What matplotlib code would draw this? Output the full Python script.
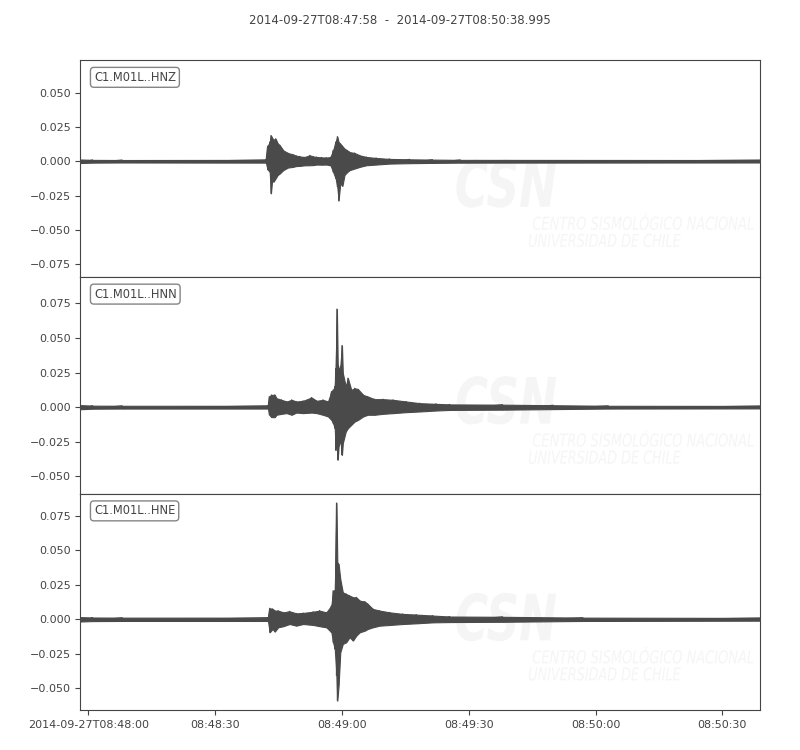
import numpy as np
import matplotlib
matplotlib.use('Agg')
import matplotlib.pyplot as plt
import matplotlib.dates as mdates
from matplotlib.ticker import MultipleLocator, FuncFormatter
from matplotlib.textpath import TextPath
from matplotlib.patches import PathPatch
from matplotlib.font_manager import FontProperties
from matplotlib.transforms import Affine2D
from datetime import datetime, timedelta

start = datetime(2014, 9, 27, 8, 47, 58)
title = '2014-09-27T08:47:58  -  2014-09-27T08:50:38.995'
ids = ['C1.M01L..HNZ', 'C1.M01L..HNN', 'C1.M01L..HNE']

# envelope (max / min per bin), t in seconds after start
t_z = [0, 3, 10, 44.0, 44.4, 44.9, 45.2, 45.5, 45.8, 46.3, 46.8, 47.3, 48.1, 49.2,
       50.4, 51.2, 52.0, 53.0, 54.4, 55.2, 56.0, 57.2, 58.3, 59.3, 59.9, 60.5,
       60.9, 61.2, 61.6, 62.1, 62.6, 63.2, 63.8, 65.0, 66.2, 67.8, 70.1, 73.3,
       78.0, 83.4, 90, 161]
hi_z = [0.0013, 0.0010, 0.0009, 0.0010, 0.0110, 0.0140, 0.0188, 0.0170, 0.0157,
        0.0164, 0.0130, 0.0116, 0.0080, 0.0060, 0.0050, 0.0040, 0.0036, 0.0030,
        0.0043, 0.0035, 0.0031, 0.0028, 0.0027, 0.0030, 0.0080, 0.0140, 0.0180,
        0.0140, 0.0128, 0.0110, 0.0092, 0.0080, 0.0067, 0.0060, 0.0043, 0.0031,
        0.0024, 0.0017, 0.0014, 0.0012, 0.0010, 0.0009]
lo_z = [-0.0013, -0.0010, -0.0009, -0.0010, -0.0060, -0.0077, -0.0234, -0.0130,
        -0.0150, -0.0125, -0.0100, -0.0089, -0.0065, -0.0046, -0.0041, -0.0035,
        -0.0034, -0.0030, -0.0029, -0.0028, -0.0024, -0.0025, -0.0024, -0.0030,
        -0.0077, -0.0125, -0.0186, -0.0287, -0.0160, -0.0180, -0.0100, -0.0080,
        -0.0065, -0.0053, -0.0041, -0.0029, -0.0024, -0.0017, -0.0014, -0.0012,
        -0.0010, -0.0009]

t_n = [0, 3, 10, 44.5, 44.8, 45.3, 46.1, 46.5, 47.7, 48.9, 50.1, 51.2, 52.8, 54.8,
       56.0, 57.5, 58.7, 59.5, 59.9, 60.3, 60.5, 60.8, 61.0, 61.2, 61.6, 62.0,
       62.2, 62.9, 63.4, 64.2, 65.0, 65.8, 67.0, 68.1, 69.7, 71.7, 74.1, 77.2,
       80.4, 84.3, 87.5, 100, 112, 125, 161]
hi_n = [0.0015, 0.0011, 0.0010, 0.0010, 0.0077, 0.0089, 0.0089, 0.0065, 0.0053,
        0.0041, 0.0053, 0.0041, 0.0046, 0.0070, 0.0046, 0.0053, 0.0041, 0.0113,
        0.0125, 0.0150, 0.0280, 0.0709, 0.0306, 0.0270, 0.0294, 0.0446, 0.0246,
        0.0150, 0.0210, 0.0125, 0.0137, 0.0130, 0.0089, 0.0077, 0.0058, 0.0058,
        0.0053, 0.0041, 0.0029, 0.0024, 0.0020, 0.0018, 0.0014, 0.0010, 0.0009]
lo_n = [-0.0015, -0.0011, -0.0010, -0.0010, -0.0055, -0.0072, -0.0072, -0.0055,
        -0.0048, -0.0043, -0.0055, -0.0039, -0.0043, -0.0039, -0.0043, -0.0055,
        -0.0067, -0.0092, -0.0116, -0.0152, -0.0310, -0.0236, -0.0380, -0.0284,
        -0.0236, -0.0345, -0.0260, -0.0176, -0.0152, -0.0128, -0.0104, -0.0092,
        -0.0067, -0.0055, -0.0055, -0.0048, -0.0043, -0.0036, -0.0031, -0.0024,
        -0.0020, -0.0018, -0.0014, -0.0010, -0.0009]

t_e = [0, 3, 10, 44.5, 44.9, 45.6, 46.1, 46.9, 48.1, 49.6, 51.2, 52.8, 55.2, 56.7,
       58.3, 59.5, 59.9, 60.3, 60.7, 60.9, 61.2, 61.6, 62.2, 63.0, 63.8, 64.6,
       65.4, 66.2, 67.4, 68.1, 69.3, 70.9, 73.3, 76.4, 79.6, 83.5, 87.5, 100,
       119, 161]
hi_e = [0.0016, 0.0013, 0.0012, 0.0012, 0.0080, 0.0075, 0.0063, 0.0063, 0.0050,
        0.0058, 0.0043, 0.0046, 0.0055, 0.0063, 0.0050, 0.0099, 0.0207, 0.0207,
        0.0841, 0.0412, 0.0400, 0.0292, 0.0195, 0.0183, 0.0171, 0.0159, 0.0159,
        0.0135, 0.0128, 0.0111, 0.0075, 0.0063, 0.0050, 0.0039, 0.0034, 0.0027,
        0.0020, 0.0018, 0.0012, 0.0010]
lo_e = [-0.0016, -0.0013, -0.0012, -0.0012, -0.0094, -0.0070, -0.0089, -0.0058,
        -0.0050, -0.0034, -0.0046, -0.0034, -0.0041, -0.0050, -0.0058, -0.0094,
        -0.0166, -0.0215, -0.0407, -0.0588, -0.0480, -0.0239, -0.0178, -0.0166,
        -0.0130, -0.0154, -0.0118, -0.0094, -0.0082, -0.0070, -0.0058, -0.0046,
        -0.0041, -0.0034, -0.0029, -0.0022, -0.0020, -0.0018, -0.0012, -0.0010]

traces = [(t_z, hi_z, lo_z), (t_n, hi_n, lo_n), (t_e, hi_e, lo_e)]
ylims = [(-0.0842, 0.0738), (-0.0624, 0.0942), (-0.0658, 0.0909)]

grey = '#444444'
wave = '#4a4a4a'
mark = '#f5f5f5'
plt.rcParams['text.color'] = grey
plt.rcParams['axes.edgecolor'] = grey
plt.rcParams['xtick.color'] = grey
plt.rcParams['ytick.color'] = grey
plt.rcParams['font.size'] = 8

fig = plt.figure(figsize=(8, 7.5), dpi=100)
fig.suptitle(title, x=0.5, y=0.973, va='center', fontsize=8.5, color=grey)

t0 = mdates.date2num(start)
x0 = mdates.date2num(start + timedelta(seconds=0.1))
x1 = mdates.date2num(start + timedelta(seconds=160.9))

left, width = 0.1004, 0.8496
bottom, total = 0.0529, 0.8671
h = total / 3


def fmt_time(x, pos):
    d = mdates.num2date(x)
    if pos == 0:
        return d.strftime('%Y-%m-%dT%H:%M:%S')
    return d.strftime('%H:%M:%S')


def narrow_text(ax, s, xf, yf, size, sx, weight='normal'):
    # squeezed italic text for the faint logo in the background
    fp = FontProperties(family='DejaVu Sans', style='italic', weight=weight)
    path = TextPath((0, 0), s, size=size, prop=fp)
    px, py = ax.transAxes.transform((xf, yf))
    k = fig.dpi / 72.0
    tr = Affine2D().scale(sx * k, k).translate(px, py)
    ax.add_artist(PathPatch(path, transform=tr, fc=mark, ec='none', zorder=0))


axes = []
for i, (tt, hi, lo) in enumerate(traces):
    ax = fig.add_axes([left, bottom + (2 - i) * h, width, h])
    x = t0 + np.array(tt) / 86400.0
    ax.fill_between(x, lo, hi, color=wave, linewidth=0.8, edgecolor=wave, zorder=3)
    ax.plot(np.repeat(x, 2), np.column_stack([hi, lo]).ravel(), color=wave,
            lw=0.8, zorder=3)
    ax.set_xlim(x0, x1)
    ax.set_ylim(*ylims[i])
    ax.yaxis.set_major_locator(MultipleLocator(0.025))
    ax.text(0.02, 0.95, ids[i], transform=ax.transAxes, ha='left', va='top',
            fontsize=8.3, zorder=5,
            bbox=dict(boxstyle='round', fc='w', ec='#666666', alpha=0.8))
    narrow_text(ax, 'CSN', 0.551, 0.323, 46, 0.71, weight='bold')
    narrow_text(ax, 'CENTRO SISMOLÓGICO NACIONAL', 0.665, 0.217, 12.8, 0.73)
    narrow_text(ax, 'UNIVERSIDAD DE CHILE', 0.659, 0.138, 12.8, 0.72)
    ax.xaxis.set_major_locator(mdates.SecondLocator(bysecond=[0, 30]))
    ax.xaxis.set_major_formatter(FuncFormatter(fmt_time))
    if i < 2:
        ax.tick_params(axis='x', bottom=False, labelbottom=False)
    axes.append(ax)

fig.savefig('out.png', dpi=100)
